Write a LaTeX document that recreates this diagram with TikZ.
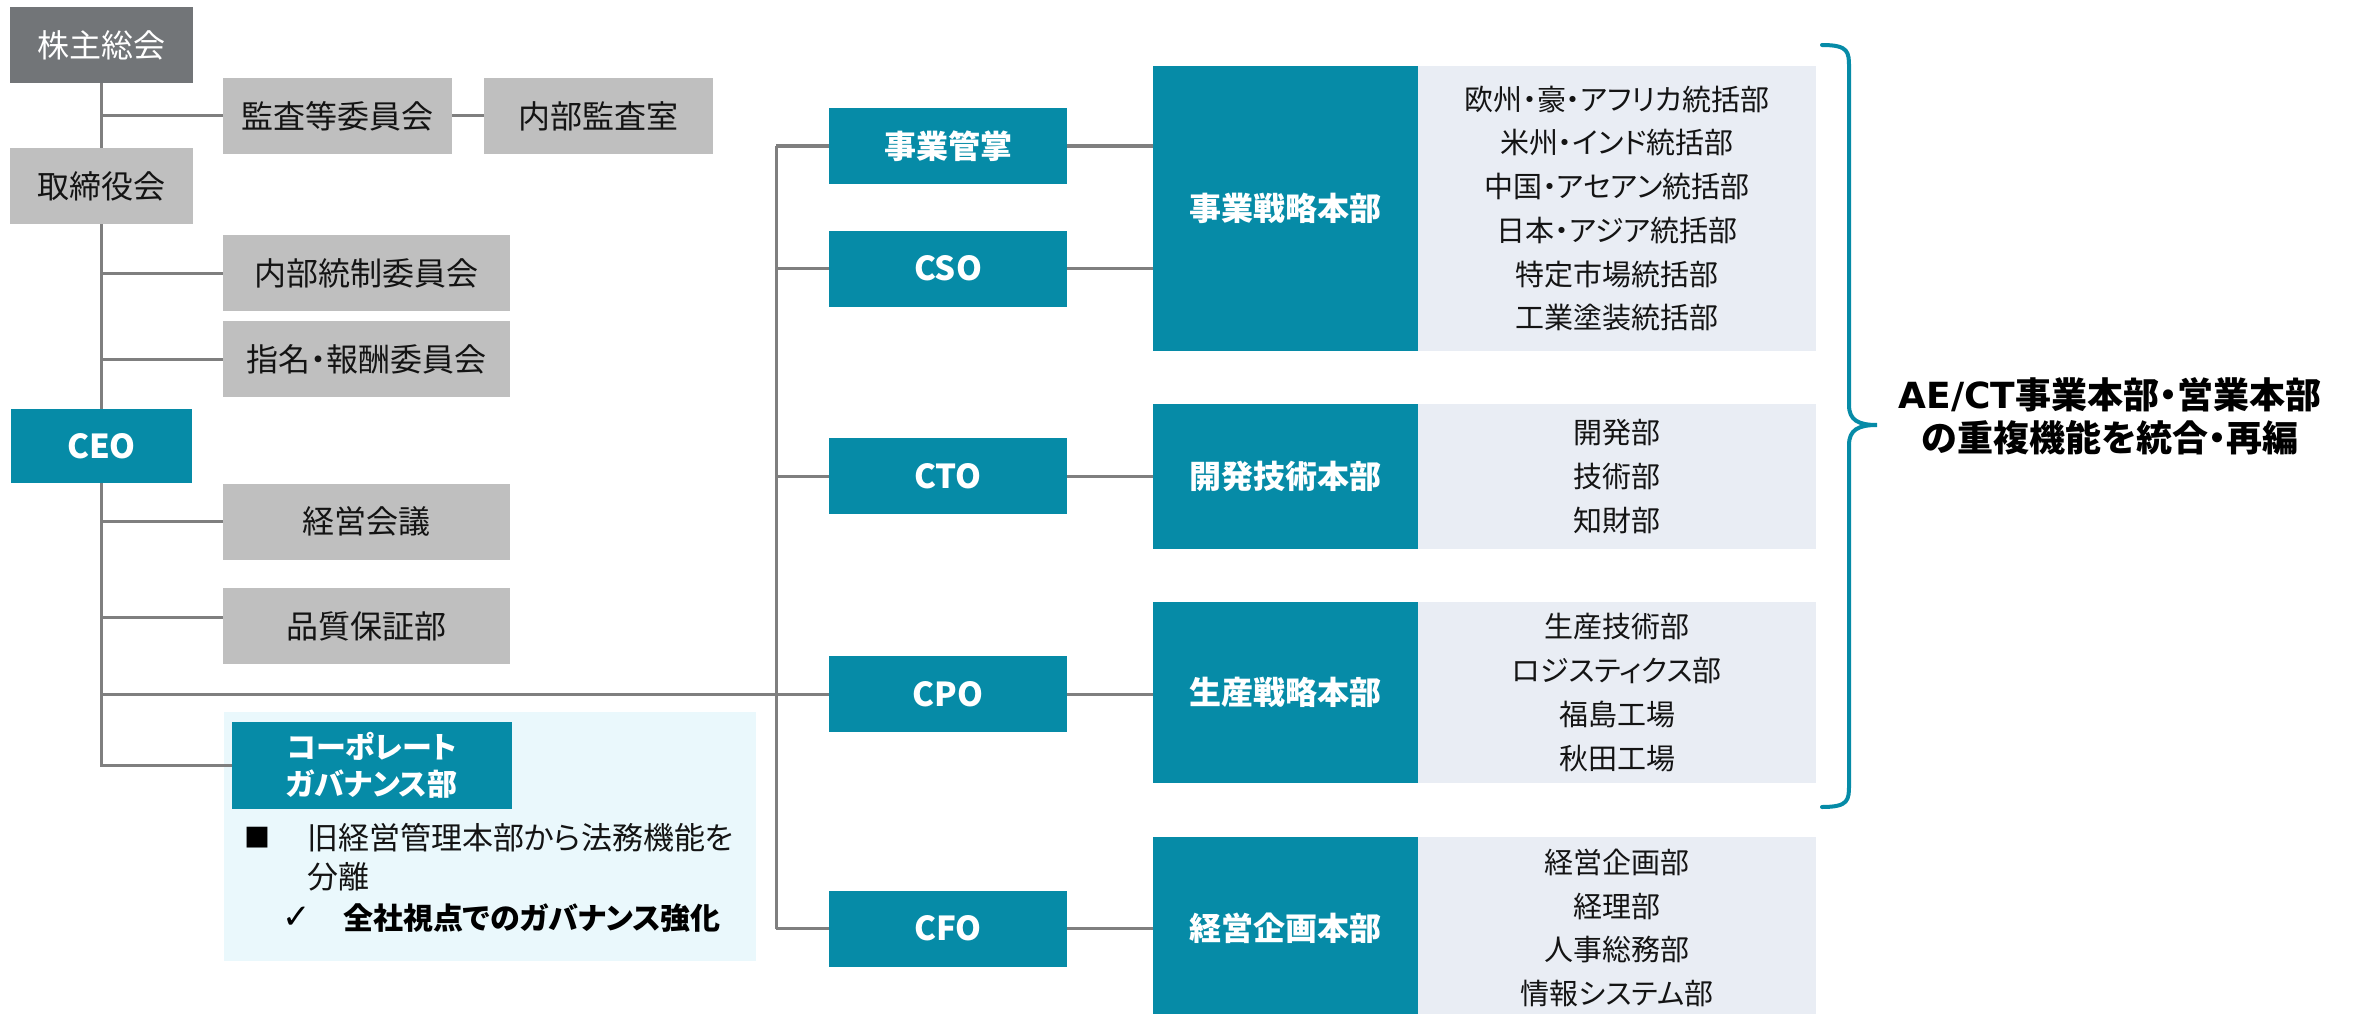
\documentclass[tikz,border=0pt]{standalone}
\usepackage{fontspec}
\setmainfont{Noto Sans CJK JP}[RawFeature=+palt]
\newfontfamily\symfont{DejaVu Sans}
\usetikzlibrary{calc}
\definecolor{tealA}{RGB}{6,139,167}
\definecolor{dgray}{RGB}{114,117,120}
\definecolor{lgray}{RGB}{191,191,191}
\definecolor{panel}{RGB}{233,237,244}
\definecolor{cyanbg}{RGB}{234,248,252}
\definecolor{linegray}{RGB}{127,127,127}
\definecolor{txt}{RGB}{20,20,20}
\tikzset{
  gbox/.style={fill=lgray, text=txt, inner sep=0pt, minimum height=76,
    font=\fontsize{32}{38}\selectfont},
  tbox/.style={fill=tealA, text=white, inner sep=0pt, minimum height=76,
    font=\bfseries\fontsize{33}{38}\selectfont},
  hqbox/.style={fill=tealA, text=white, inner sep=0pt, minimum width=265,
    font=\bfseries\fontsize{32}{38}\selectfont},
  pbox/.style={fill=panel, text=txt, inner sep=0pt, minimum width=398, align=center,
    font=\fontsize{29}{43.7}\selectfont},
  conn/.style={draw=linegray, line width=3pt},
  bracestyle/.style={draw=tealA, line width=4pt, line cap=round}
}
\begin{document}
\begin{tikzpicture}[x=1pt,y=-1pt]
\useasboundingbox (0,0) rectangle (2363,1014);

% left column
\node[fill=dgray, text=white, inner sep=0pt, minimum width=183, minimum height=76,
  font=\fontsize{32}{38}\selectfont] (kabu) at (101.5,45) {株主総会};
\node[gbox, minimum width=229] (kansa) at (337.5,116) {監査等委員会};
\node[gbox, minimum width=229] (naikan) at (598.5,116) {内部監査室};
\node[gbox, minimum width=183] (tori) at (101.5,186) {取締役会};
\node[gbox, minimum width=287] (naitou) at (366.5,273) {内部統制委員会};
\node[gbox, minimum width=287] (shimei) at (366.5,359) {指名・報酬委員会};
\node[tbox, minimum width=181, minimum height=74] (ceo) at (101.5,446) {CEO};
\node[gbox, minimum width=287] (keikai) at (366.5,521.5) {経営会議};
\node[gbox, minimum width=287] (hinshitsu) at (366.5,626) {品質保証部};

% corporate governance
\node[fill=cyanbg, inner sep=0pt, minimum width=532, minimum height=249] (corpbg) at (490,836.5) {};
\node[fill=tealA, text=white, inner sep=0pt, minimum width=280, minimum height=87, align=center,
  font=\bfseries\fontsize{30}{37}\selectfont] (corp) at (372,765.5) {コーポレート\\ガバナンス部};
\node[text=black, inner sep=0pt, font=\fontsize{26}{30}\selectfont] (sq) at (257.5,838) {■};
\node[text=txt, inner sep=0pt, anchor=west, align=left,
  font=\fontsize{31}{39}\selectfont] (bul1) at (307,857.5) {旧経営管理本部から法務機能を\\分離};
\node[text=black, inner sep=0pt, font=\symfont\fontsize{34}{38}\selectfont] (chk) at (297,918) {✓};
\node[text=black, inner sep=0pt, anchor=west,
  font=\bfseries\fontsize{30}{36}\selectfont] (bul2) at (343,918) {全社視点でのガバナンス強化};

% CxO column
\node[tbox, minimum width=238, font=\bfseries\fontsize{32}{38}\selectfont] (kansho) at (948,146) {事業管掌};
\node[tbox, minimum width=238] (cso) at (948,268.5) {CSO};
\node[tbox, minimum width=238] (cto) at (948,476) {CTO};
\node[tbox, minimum width=238] (cpo) at (948,694) {CPO};
\node[tbox, minimum width=238] (cfo) at (948,928.5) {CFO};

% headquarters
\node[hqbox, minimum height=285] (hq1) at (1285.5,208.5) {事業戦略本部};
\node[hqbox, minimum height=145] (hq2) at (1285.5,476.5) {開発技術本部};
\node[hqbox, minimum height=181] (hq3) at (1285.5,692.5) {生産戦略本部};
\node[hqbox, minimum height=182] (hq4) at (1285.5,928) {経営企画本部};

\node[pbox, minimum height=285] (p1) at (1617,208.5)
  {欧州・豪・アフリカ統括部\\米州・インド統括部\\中国・アセアン統括部\\日本・アジア統括部\\特定市場統括部\\工業塗装統括部};
\node[pbox, minimum height=145] (p2) at (1617,476.5) {開発部\\技術部\\知財部};
\node[pbox, minimum height=181] (p3) at (1617,692.5) {生産技術部\\ロジスティクス部\\福島工場\\秋田工場};
\node[pbox, minimum height=182] (p4) at (1617,928) {経営企画部\\経理部\\人事総務部\\情報システム部};

% brace and note
\coordinate (brtop) at (1822,45);
\coordinate (brtip) at (1877,425);
\coordinate (brbot) at (1822,807);
\draw[bracestyle] (brtop) .. controls (1849,45) and (1849,52) .. (1849,68)
  -- (1849,405) .. controls (1849,420) and (1858,425) .. (brtip)
  .. controls (1858,425) and (1849,430) .. (1849,445)
  -- (1849,784) .. controls (1849,800) and (1849,807) .. (brbot);
\node[text=black, inner sep=0pt, align=center, font=\bfseries\fontsize{36}{43}\selectfont]
  (note) at (2110,416.5) {{\symfont AE/CT}事業本部・営業本部\\の重複機能を統合・再編};

% connectors left
\draw[conn] (kabu.south) -- (tori.north);
\draw[conn] (tori.south) -- (ceo.north);
\draw[conn] (kabu.south |- kansa.west) -- (kansa.west);
\draw[conn] (kansa.east) -- (naikan.west);
\draw[conn] (tori.south |- naitou.west) -- (naitou.west);
\draw[conn] (tori.south |- shimei.west) -- (shimei.west);
\draw[conn] (ceo.south) |- (corp.west);
\draw[conn] (ceo.south |- keikai.west) -- (keikai.west);
\coordinate (hqin) at ($(hinshitsu.west)+(0,-9)$);
\draw[conn] (ceo.south |- hqin) -- (hqin);
\draw[conn] (ceo.south |- cpo.west) -- (cpo.west);

% right trunk
\coordinate (rt) at (776,0);
\draw[conn] (rt |- kansho.west) -- (rt |- cfo.west);
\draw[conn] (rt |- kansho.west) -- (kansho.west);
\draw[conn] (rt |- cso.west) -- (cso.west);
\draw[conn] (rt |- cto.west) -- (cto.west);
\draw[conn] (rt |- cfo.west) -- (cfo.west);

% CxO to HQ
\draw[conn] (kansho.east) -- (kansho.east -| hq1.west);
\draw[conn] (cso.east) -- (cso.east -| hq1.west);
\draw[conn] (cto.east) -- (cto.east -| hq2.west);
\draw[conn] (cpo.east) -- (cpo.east -| hq3.west);
\draw[conn] (cfo.east) -- (cfo.east -| hq4.west);
\end{tikzpicture}
\end{document}
